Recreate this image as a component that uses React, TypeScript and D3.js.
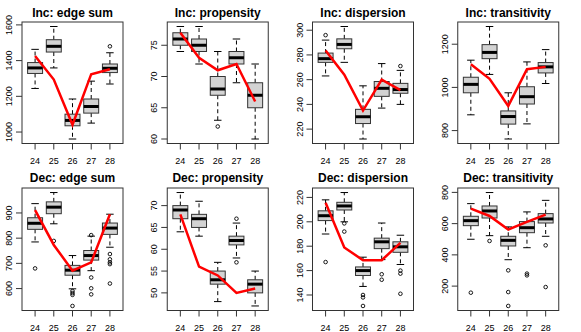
import React from 'react';
import * as d3 from 'd3';

// ages on the x axis
const ages = ['24', '25', '26', '27', '28'];

const titles = [
  'Inc: edge sum', 'Inc: propensity', 'Inc: dispersion', 'Inc: transitivity',
  'Dec: edge sum', 'Dec: propensity', 'Dec: dispersion', 'Dec: transitivity',
];

// box stats per age: [lower whisker, q1, median, q3, upper whisker]
const incEdgeSumStats = [
  [1244, 1328, 1359, 1389, 1463], [1359, 1448, 1480, 1517, 1591], [961, 1035, 1065, 1100, 1185],
  [1050, 1106, 1143, 1185, 1285], [1269, 1333, 1357, 1381, 1444],
];
const incEdgeSumOut = [[], [], [], [], [1480]];
const incEdgeSumLine = [1426, 1294, 1041, 1324, 1352];

const incPropStats = [
  [74, 75, 76, 77, 78], [72, 74, 75, 76, 78], [63, 67, 68, 70, 74], [69, 72, 73, 74, 76], [60, 65, 67, 69, 72],
];
const incPropOut = [[], [], [62], [], []];
const incPropLine = [77, 73, 71, 72, 66];

const incDispStats = [
  [263, 274, 277, 281.5, 292], [274, 285, 288.5, 293, 303], [212, 224.5, 230, 236, 255],
  [237, 246.5, 253, 258.5, 273], [240, 249, 252, 257, 267.5],
];
const incDispOut = [[296], [], [], [], [271]];
const incDispLine = [283.5, 264, 235, 260, 251.5];

const incTransStats = [
  [873, 975, 1014, 1047, 1126], [1060, 1133, 1162, 1198, 1282], [761, 830, 865, 891, 975],
  [831, 923, 957, 1003, 1118], [1018, 1067, 1095, 1115, 1175],
];
const incTransOut = [[], [], [], [], []];
const incTransLine = [1107, 1040, 914, 1084, 1095];

const decEdgeSumStats = [
  [785, 835, 859, 881, 937], [857, 897, 923, 944, 981], [599, 653, 673, 692, 731],
  [671, 713, 731, 751, 808], [764, 815, 840, 860, 895],
];
const decEdgeSumOut = [[680], [789], [590, 582, 575, 531], [812, 644, 601, 577], [737, 716, 704, 697, 620]];
const decEdgeSumLine = [911, 773, 671, 704, 895];

const decPropStats = [
  [64, 67, 69, 70, 73], [63, 65, 67, 68, 71], [48, 52, 53, 55, 57], [58, 61, 62, 63, 66], [47, 50, 52, 53, 55],
];
const decPropOut = [[], [], [], [67, 57], []];
const decPropLine = [68, 56, 54, 50, 51];

const decDispStats = [
  [190, 201, 205, 209, 218], [200, 209.7, 213, 216, 224], [147, 156, 160, 163, 171],
  [169, 178, 183.6, 186.6, 199], [165, 175, 179.5, 183.6, 189],
];
const decDispOut = [[167], [198.7, 192], [140, 138, 131], [157, 152.5], [160, 157.5, 141]];
const decDispLine = [215.7, 179, 168.5, 168.5, 182.7];

const decTransStats = [
  [500, 587, 619, 647, 728], [523, 636, 681, 713, 799], [369, 457, 493, 519, 579],
  [446, 542, 574, 613, 675], [519, 604, 630, 664, 749],
];
const decTransOut = [[158], [489], [301, 162, 73], [280, 269], [461, 194]];
const decTransLine = [696, 649, 562, 611, 658];

const yTicks = [
  [1000, 1200, 1400, 1600], [60, 65, 70, 75], [220, 240, 260, 280, 300], [800, 1000, 1200],
  [600, 700, 800, 900], [50, 55, 60, 65, 70], [140, 160, 180, 200, 220], [200, 400, 600, 800],
];

const panels = [
  { stats: incEdgeSumStats, out: incEdgeSumOut, line: incEdgeSumLine },
  { stats: incPropStats, out: incPropOut, line: incPropLine },
  { stats: incDispStats, out: incDispOut, line: incDispLine },
  { stats: incTransStats, out: incTransOut, line: incTransLine },
  { stats: decEdgeSumStats, out: decEdgeSumOut, line: decEdgeSumLine },
  { stats: decPropStats, out: decPropOut, line: decPropLine },
  { stats: decDispStats, out: decDispOut, line: decDispLine },
  { stats: decTransStats, out: decTransOut, line: decTransLine },
];

const W = 581, H = 332;
const colW = W / 4;
const font = '"Liberation Sans", Arial, Helvetica, sans-serif';

function Panel({ idx }: { idx: number }) {
  const p = panels[idx];
  const col = idx % 4, row = Math.floor(idx / 4);
  const ox = col * colW;
  const left = ox + 22, right = ox + 123;
  const top = row === 0 ? 22 : 188;
  const bottom = row === 0 ? 143.5 : 310.5;

  const all = p.stats.flat().concat(p.out.flat());
  const [mn, mx] = d3.extent(all) as [number, number];
  const pad = (mx - mn) * 0.04;
  const y = d3.scaleLinear().domain([mn - pad, mx + pad]).range([bottom, top]);
  const x = d3.scaleLinear().domain([0.5 - 0.2, 5.5 + 0.2]).range([left, right]);

  const line = d3.line<number>().x((_, i) => x(i + 1)).y(d => y(d));

  return (
    <g>
      <text x={(left + right) / 2} y={row === 0 ? 17 : 182} textAnchor="middle"
        fontFamily={font} fontWeight="bold" fontSize={12}>{titles[idx]}</text>
      {p.stats.map((s, i) => {
        const cx = x(i + 1);
        const bw = x(1.4) - x(1);
        const sw = x(1.2) - x(1);
        return (
          <g key={i}>
            <line x1={cx} x2={cx} y1={y(s[3])} y2={y(s[4])} stroke="#000" strokeDasharray="4,3" />
            <line x1={cx} x2={cx} y1={y(s[1])} y2={y(s[0])} stroke="#000" strokeDasharray="4,3" />
            <line x1={cx - sw} x2={cx + sw} y1={y(s[4])} y2={y(s[4])} stroke="#000" />
            <line x1={cx - sw} x2={cx + sw} y1={y(s[0])} y2={y(s[0])} stroke="#000" />
            <rect x={cx - bw} width={bw * 2} y={y(s[3])} height={y(s[1]) - y(s[3])}
              fill="#d3d3d3" stroke="#333" />
            <line x1={cx - bw} x2={cx + bw} y1={y(s[2])} y2={y(s[2])} stroke="#000" strokeWidth={3} />
            {p.out[i].map((v, j) => (
              <circle key={j} cx={cx} cy={y(v)} r={1.8} fill="none" stroke="#000" strokeWidth={0.9} />
            ))}
          </g>
        );
      })}
      <path d={line(p.line) || ''} fill="none" stroke="#ff0000" strokeWidth={2.5} />
      <rect x={left} y={top} width={right - left} height={bottom - top} fill="none" stroke="#333" />
      {ages.map((a, i) => (
        <g key={a}>
          <line x1={x(i + 1)} x2={x(i + 1)} y1={bottom} y2={bottom + 6} stroke="#333" />
          <text x={x(i + 1)} y={bottom + 20} textAnchor="middle" fontFamily={font} fontSize={9}>{a}</text>
        </g>
      ))}
      {yTicks[idx].map(t => (
        <g key={t}>
          <line x1={left - 6} x2={left} y1={y(t)} y2={y(t)} stroke="#333" />
          <text transform={`translate(${left - 10},${y(t)}) rotate(-90)`} textAnchor="middle"
            fontFamily={font} fontSize={9}>{t}</text>
        </g>
      ))}
    </g>
  );
}

export default function App() {
  return (
    <svg width={W} height={H} style={{ position: 'absolute', left: 0, top: 0, background: '#fff' }}>
      {panels.map((_, i) => <Panel key={i} idx={i} />)}
    </svg>
  );
}
